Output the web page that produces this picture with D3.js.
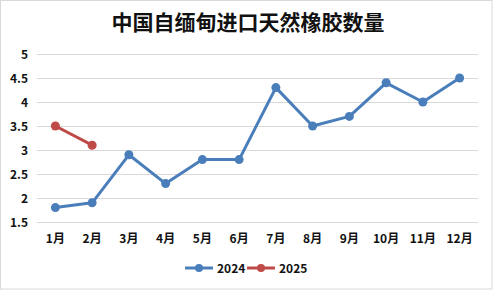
<!DOCTYPE html>
<html lang="zh">
<head>
<meta charset="UTF-8">
<script src="https://cdn.jsdelivr.net/npm/d3@7"></script>
<style>
  body { margin: 0; background: #fff; }
  svg { display: block; font-family: "Noto Sans CJK SC", sans-serif; }
</style>
</head>
<body>
<script>
// data
const months = ["1月", "2月", "3月", "4月", "5月", "6月", "7月", "8月", "9月", "10月", "11月", "12月"];
const values2024 = [1.8, 1.9, 2.9, 2.3, 2.8, 2.8, 4.3, 3.5, 3.7, 4.4, 4.0, 4.5];
const values2025 = [3.5, 3.1];
const yTicks = [1.5, 2, 2.5, 3, 3.5, 4, 4.5, 5];
const seriesNames = ["2024", "2025"];
const colors = ["#4a7ebb", "#be4b48"];

const W = 493, H = 290;
const svg = d3.select("body").append("svg").attr("width", W).attr("height", H);

// outer border
svg.append("rect").attr("x", 0.5).attr("y", 0.5).attr("width", W - 1.5).attr("height", H - 1.5)
  .attr("fill", "#fff").attr("stroke", "#d9d9d9");

// title
svg.append("text").attr("x", 248).attr("y", 30).attr("text-anchor", "middle")
  .attr("font-size", 21).attr("font-weight", "bold").attr("fill", "#111")
  .text("中国自缅甸进口天然橡胶数量");

const x = d3.scaleBand().domain(months).range([37, 478]);
const y = d3.scaleLinear().domain([1.5, 5]).range([222, 54]);

// grid lines
svg.append("g").selectAll("line").data(yTicks).join("line")
  .attr("x1", 37).attr("x2", 478)
  .attr("y1", d => y(d) + 0.5).attr("y2", d => y(d) + 0.5)
  .attr("stroke", "#d9d9d9");

// y labels
svg.append("g").selectAll("text").data(yTicks).join("text")
  .attr("x", 28).attr("y", d => y(d) + 4.5).attr("text-anchor", "end")
  .attr("font-size", 12).attr("font-weight", "bold").attr("fill", "#111")
  .text(d => d);

// x labels
svg.append("g").selectAll("text").data(months).join("text")
  .attr("x", d => x(d) + x.bandwidth() / 2).attr("y", 243).attr("text-anchor", "middle")
  .attr("font-size", 12).attr("font-weight", "bold").attr("fill", "#111")
  .text(d => d);

const line = d3.line().x(d => x(d.m) + x.bandwidth() / 2).y(d => y(d.v));

[values2024, values2025].forEach((vals, i) => {
  const pts = vals.map((v, j) => ({ m: months[j], v }));
  svg.append("path").datum(pts).attr("d", line)
    .attr("fill", "none").attr("stroke", colors[i]).attr("stroke-width", 3)
    .attr("stroke-linejoin", "round");
  svg.append("g").selectAll("circle").data(pts).join("circle")
    .attr("cx", d => x(d.m) + x.bandwidth() / 2).attr("cy", d => y(d.v))
    .attr("r", 4.5).attr("fill", colors[i]);
});

// legend
const legend = svg.append("g");
const legX = [185, 247];
seriesNames.forEach((name, i) => {
  const g = legend.append("g").attr("transform", `translate(${legX[i]},268)`);
  g.append("line").attr("x1", 0).attr("x2", 28).attr("stroke", colors[i]).attr("stroke-width", 3);
  g.append("circle").attr("cx", 14).attr("r", 4).attr("fill", colors[i]);
  g.append("text").attr("x", 32).attr("y", 4.5).attr("font-size", 12).attr("font-weight", "bold")
    .attr("fill", "#111").text(name);
});
</script>
</body>
</html>
